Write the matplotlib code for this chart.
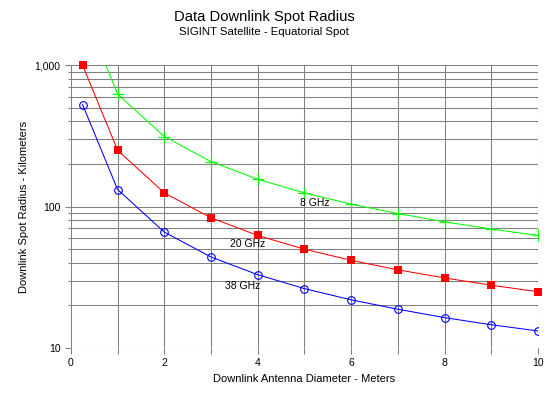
import matplotlib
matplotlib.use("Agg")
import matplotlib.pyplot as plt
from matplotlib.ticker import FixedLocator, FuncFormatter, NullFormatter, LogLocator

diameter = [0.25, 1, 2, 3, 4, 5, 6, 7, 8, 9, 10]
radius_8ghz = [2500, 625, 313, 208, 156, 125, 104, 89.3, 78.1, 69.4, 62.5]
radius_20ghz = [1000, 250, 125, 83.3, 62.5, 50, 41.7, 35.7, 31.3, 27.8, 25]
radius_38ghz = [526, 132, 66, 44, 33, 26.3, 21.9, 18.8, 16.4, 14.6, 13.2]

plt.rcParams['font.family'] = ['Liberation Sans', 'DejaVu Sans']

fig = plt.figure(figsize=(5.54, 3.95), dpi=100)
ax = fig.add_axes([0.128, 0.119, 0.843, 0.716])

ax.plot(diameter[1:], radius_8ghz[1:], color='#00FF00', lw=0.75, marker='+', ms=8, mew=0.9, zorder=3)
ax.plot(diameter[:2], radius_8ghz[:2], color='#00FF00', lw=0.75, zorder=3)
ax.plot(diameter, radius_20ghz, color='#FF0000', lw=0.75, marker='s', ms=6.4, mew=0, mfc='#FF0000', zorder=3, clip_on=False)
ax.plot(diameter, radius_38ghz, color='#0000FF', lw=0.75, marker='o', ms=5.5, mfc='none', mec='#0000FF', mew=0.8, zorder=3)

ax.set_yscale('log')
ax.set_xlim(0, 10)
ax.set_ylim(10, 1000)

ax.xaxis.set_major_locator(FixedLocator([0, 2, 4, 6, 8, 10]))
ax.xaxis.set_minor_locator(FixedLocator([1, 3, 5, 7, 9]))
ax.yaxis.set_major_locator(FixedLocator([10, 100, 1000]))
ax.yaxis.set_minor_locator(LogLocator(base=10, subs=range(2, 10)))
ax.yaxis.set_major_formatter(FuncFormatter(lambda v, p: f"{int(v):,}"))
ax.yaxis.set_minor_formatter(NullFormatter())

gc = '#808080'
ax.grid(True, which='both', color=gc, lw=0.75)
for s in ax.spines.values():
    s.set_visible(False)
ax.tick_params(which='both', colors=gc, labelcolor='black', labelsize=7.5, width=0.75)
ax.tick_params(axis='x', which='both', length=4, direction='out')
ax.tick_params(axis='y', which='major', length=4, direction='out')
ax.tick_params(axis='y', which='minor', length=2, direction='out')

ax.text(4.9, 106, '8 GHz', fontsize=7.5, ha='left', va='center')
ax.text(3.4, 54, '20 GHz', fontsize=7.5, ha='left', va='center')
ax.text(3.3, 27.4, '38 GHz', fontsize=7.5, ha='left', va='center')

ax.set_xlabel('Downlink Antenna Diameter - Meters', fontsize=8)
ax.set_ylabel('Downlink Spot Radius - Kilometers', fontsize=8, labelpad=4)

fig.text(0.477, 0.958, 'Data Downlink Spot Radius', fontsize=10.6, ha='center', va='center')
fig.text(0.477, 0.92, 'SIGINT Satellite - Equatorial Spot', fontsize=8.2, ha='center', va='center')

fig.savefig('out.png', dpi=100)
